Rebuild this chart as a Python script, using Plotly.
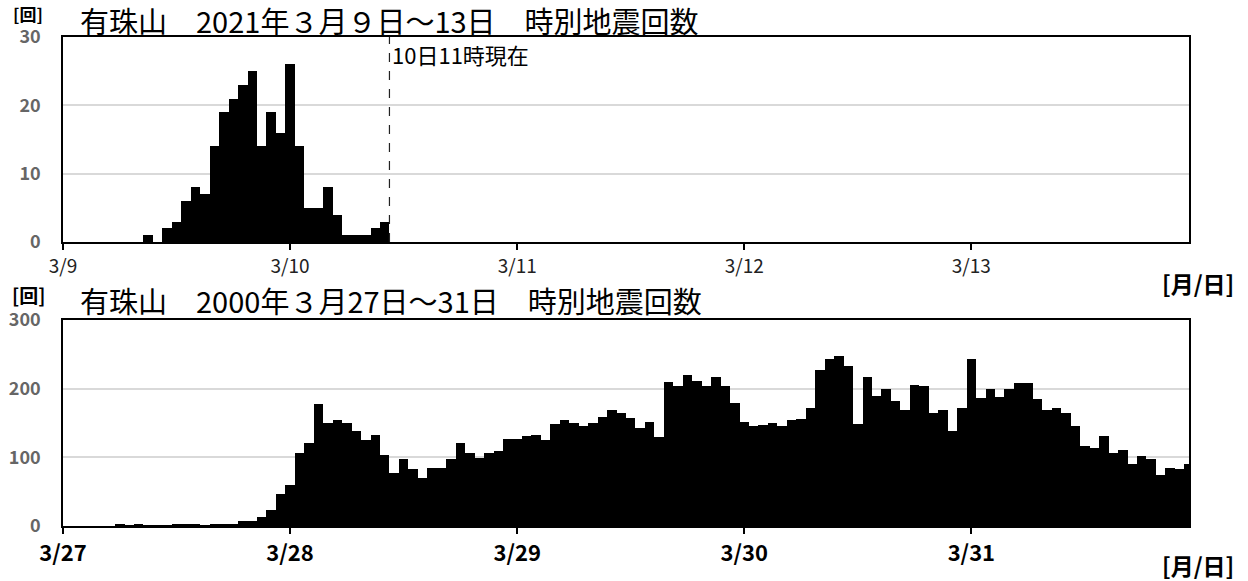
import pandas as pd
import plotly.graph_objects as go

# Hourly earthquake counts at Usu volcano (有珠山)
counts_2021 = [0, 0, 0, 0, 0, 0, 0, 0, 0, 1, 0, 2, 3, 6, 8, 7, 14, 19, 21, 23,
               25, 14, 19, 16, 26, 14, 5, 5, 8, 4, 1, 1, 1, 2, 3]
counts_2000 = [0, 0, 0, 0, 0, 0, 2, 1, 3, 1, 1, 1, 2, 2, 2, 1, 3, 3, 2, 7,
               7, 13, 23, 46, 60, 107, 121, 177, 150, 154, 150, 138, 125, 133, 104, 77,
               97, 83, 70, 85, 85, 97, 121, 106, 99, 106, 109, 127, 126, 131, 133, 125,
               149, 154, 150, 146, 150, 159, 169, 165, 157, 142, 152, 129, 210, 204, 220,
               211, 204, 217, 204, 179, 152, 145, 147, 150, 145, 154, 156, 172, 227, 243,
               248, 233, 148, 217, 190, 200, 182, 169, 205, 204, 164, 169, 138, 172, 243,
               187, 200, 188, 200, 208, 208, 185, 169, 172, 165, 145, 117, 113, 131, 107,
               110, 90, 102, 98, 74, 84, 83, 90]

start_2021 = pd.Timestamp("2021-03-09 00:00")
start_2000 = pd.Timestamp("2000-03-27 00:00")
n_hours = 120
now_2021 = pd.Timestamp("2021-03-10 10:30")

title_2021 = "有珠山　2021年３月９日～13日　時別地震回数"
title_2000 = "有珠山　2000年３月27日～31日　時別地震回数"
note_2021 = "10日11時現在"
y_unit = "[回]"
x_unit = "[月/日]"
y_ticks_2021 = [0, 10, 20, 30]
y_ticks_2000 = [0, 100, 200, 300]

HOUR_MS = 3600 * 1000
JP = "Noto Sans CJK JP, sans-serif"

W, H = 1248, 581
ML, MR, MT, MB = 63, 59, 37, 55
PW, PH = W - ML - MR, H - MT - MB


def px_x(px):
    return (px - ML) / PW


def px_y(py):
    return 1 - (py - MT) / PH


x2021 = pd.date_range(start_2021, periods=len(counts_2021), freq="h")
x2000 = pd.date_range(start_2000, periods=len(counts_2000), freq="h")

fig = go.Figure()
fig.add_trace(go.Bar(x=x2021, y=counts_2021, width=HOUR_MS,
                     marker=dict(color="black", line=dict(width=0)),
                     xaxis="x", yaxis="y", showlegend=False))
fig.add_trace(go.Bar(x=x2000, y=counts_2000, width=HOUR_MS,
                     marker=dict(color="black", line=dict(width=0)),
                     xaxis="x2", yaxis="y2", showlegend=False))


def xaxis_style(start, domain, anchor, bold):
    return dict(
        type="date", domain=domain, anchor=anchor, automargin=False,
        range=[start, start + pd.Timedelta(hours=n_hours - 1)],
        tick0=start, dtick=86400000, tickformat="%-m/%-d",
        ticks="outside", ticklen=6, tickwidth=1.5, tickcolor="black",
        showline=True, linecolor="black", linewidth=1.5, mirror=True,
        showgrid=False, zeroline=False,
        ticklabelstandoff=1 if bold else 0,
        tickfont=dict(family=JP, size=22 if bold else 19,
                      color="black" if bold else "#222222",
                      weight="bold" if bold else "normal"),
    )


def yaxis_style(ticks, domain, anchor):
    return dict(
        domain=domain, anchor=anchor, automargin=False,
        range=[ticks[0], ticks[-1]],
        tickvals=ticks, ticks="", showgrid=True, gridcolor="#d9d9d9",
        gridwidth=1.5, showline=True, linecolor="black", linewidth=1.5,
        mirror=True, zeroline=False, ticklabelstandoff=17,
        tickfont=dict(family=JP, size=18, color="#666666", weight="bold"),
    )


top_dom = [px_y(242), 1.0]
bot_dom = [0.0, px_y(320)]

fig.update_layout(
    width=W, height=H, margin=dict(l=ML, r=MR, t=MT, b=MB),
    paper_bgcolor="white", plot_bgcolor="white",
    bargap=0, showlegend=False,
    xaxis=xaxis_style(start_2021, [0, 1], "y", False),
    yaxis=yaxis_style(y_ticks_2021, top_dom, "x"),
    xaxis2=xaxis_style(start_2000, [0, 1], "y2", True),
    yaxis2=yaxis_style(y_ticks_2000, bot_dom, "x2"),
)

# marker for the latest observation time
fig.add_shape(type="line", xref="x", yref="y",
              x0=now_2021, x1=now_2021, y0=0, y1=y_ticks_2021[-1],
              line=dict(color="#222222", width=1.2, dash="dash"))
fig.add_annotation(xref="x", yref="y", x=now_2021, y=y_ticks_2021[-1],
                   xanchor="left", yanchor="top", xshift=1, yshift=1,
                   text=note_2021, showarrow=False,
                   font=dict(family=JP, size=22, color="black"))

anns = [
    (y_unit, 28, 13, "center", 17, "bold"),
    (title_2021, 78, 20, "left", 29, "normal"),
    (y_unit, 28, 294, "center", 19, "bold"),
    (title_2000, 78, 300, "left", 29, "normal"),
    (x_unit, 1198, 283, "center", 23, "bold"),
    (x_unit, 1198, 565, "center", 23, "bold"),
]
for text, x, y, anchor, size, weight in anns:
    fig.add_annotation(xref="paper", yref="paper", x=px_x(x), y=px_y(y),
                       xanchor=anchor, yanchor="middle", text=text,
                       showarrow=False,
                       font=dict(family=JP, size=size, color="black",
                                 weight=weight))

fig.write_html("out.html")
